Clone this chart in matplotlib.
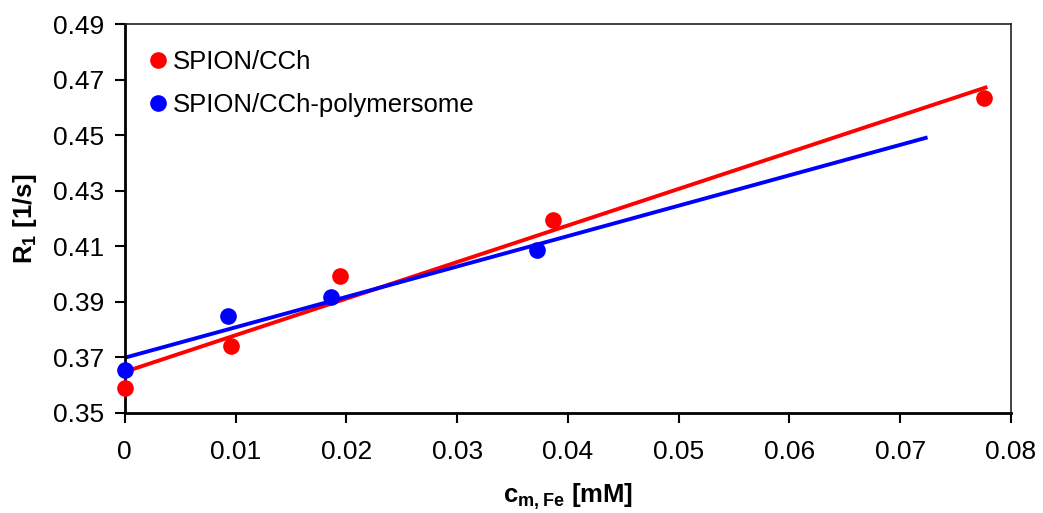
import numpy as np
import matplotlib
matplotlib.use("Agg")
import matplotlib.pyplot as plt

plt.rcParams['font.family'] = ['Liberation Sans', 'DejaVu Sans']
plt.rcParams['mathtext.fontset'] = 'custom'
plt.rcParams['mathtext.rm'] = 'Liberation Sans'
plt.rcParams['mathtext.bf'] = 'Liberation Sans:bold'

# data
x_cch = [0.0, 0.0096, 0.0194, 0.0387, 0.0776]
y_cch = [0.359, 0.3741, 0.3993, 0.4194, 0.4633]
x_poly = [0.0, 0.0093, 0.0186, 0.0372]
y_poly = [0.3654, 0.3849, 0.3916, 0.4086]

# trendline x-range
fit_cch_range = [0.0, 0.0777]
fit_poly_range = [0.0, 0.0723]

labels = ["SPION/CCh", "SPION/CCh-polymersome"]
xticks = [0, 0.01, 0.02, 0.03, 0.04, 0.05, 0.06, 0.07, 0.08]
xticklabels = ["0", "0.01", "0.02", "0.03", "0.04", "0.05", "0.06", "0.07", "0.08"]
yticks = [0.35, 0.37, 0.39, 0.41, 0.43, 0.45, 0.47, 0.49]

fig = plt.figure(figsize=(10.43, 5.13), dpi=100)
ax = fig.add_axes([0.1196, 0.1955, 0.8497, 0.7577])

# linear fits
k1, b1 = np.polyfit(x_cch, y_cch, 1)
k2, b2 = np.polyfit(x_poly, y_poly, 1)
xr1 = np.array(fit_cch_range)
xr2 = np.array(fit_poly_range)
ax.plot(xr1, k1 * xr1 + b1, color="#ff0000", lw=2.8, zorder=2)
ax.plot(xr2, k2 * xr2 + b2, color="#0000ff", lw=2.8, zorder=2)

ax.plot(x_cch, y_cch, 'o', color="#ff0000", ms=12, mec="none", label=labels[0], zorder=3, clip_on=False)
ax.plot(x_poly, y_poly, 'o', color="#0000ff", ms=12, mec="none", label=labels[1], zorder=3, clip_on=False)

ax.set_xlim(0, 0.08)
ax.set_ylim(0.35, 0.49)
ax.set_xticks(xticks)
ax.set_xticklabels(xticklabels)
ax.set_yticks(yticks)
ax.set_yticklabels([f"{v:.2f}" for v in yticks])

ax.tick_params(axis='both', direction='out', length=7, width=1.5, labelsize=19, colors='black')
ax.tick_params(axis='x', pad=13)
ax.tick_params(axis='y', pad=8)

for s in ['left', 'bottom']:
    ax.spines[s].set_linewidth(2)
for s in ['top', 'right']:
    ax.spines[s].set_linewidth(1.2)
    ax.spines[s].set_color('#222222')

ax.set_xlabel(r"$\mathbf{c_{m,Fe}}$ [mM]", fontsize=18.5, fontweight='bold', labelpad=12)
ax.set_ylabel(r"$\mathbf{R_1}$ [1/s]", fontsize=18.5, fontweight='bold', labelpad=10)

ax.legend(loc='upper left', frameon=False, fontsize=18.5, handletextpad=0.0,
          handlelength=1.2, labelspacing=0.75, borderaxespad=0.0,
          bbox_to_anchor=(0.008, 0.96))

fig.savefig("out.png", dpi=100)
